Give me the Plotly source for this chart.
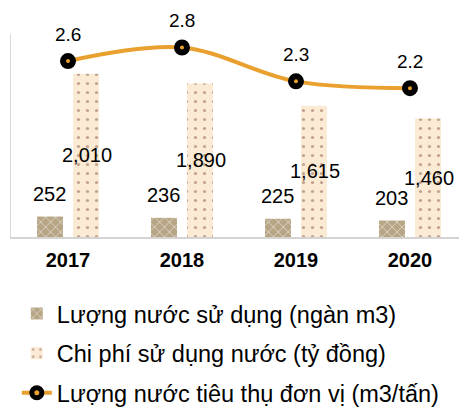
import plotly.graph_objects as go

# Water usage data by year
years = ["2017", "2018", "2019", "2020"]
water_volume = [252, 236, 225, 203]          # ngàn m3
water_cost = [2010, 1890, 1615, 1460]        # tỷ đồng
unit_consumption = [2.6, 2.8, 2.3, 2.2]      # m3/tấn

volume_labels = ["252", "236", "225", "203"]
cost_labels = ["2,010", "1,890", "1,615", "1,460"]
unit_labels = ["2.6", "2.8", "2.3", "2.2"]

FONT = "Arial, Liberation Sans, sans-serif"
TAN = "#B7A586"
BEIGE = "#FBEAD4"
ORANGE = "#E9A02E"

BAR_W = 0.228
fig = go.Figure()

fig.add_trace(go.Bar(
    x=years, y=water_volume, name="Lượng nước sử dụng (ngàn m3)",
    width=BAR_W, offset=-0.272,
    marker=dict(color=TAN, line=dict(width=0),
                pattern=dict(shape="x", fgcolor="white", bgcolor=TAN,
                             size=7, solidity=0.25)),
    legendgroup="a",
))
fig.add_trace(go.Bar(
    x=years, y=water_cost, name="Chi phí sử dụng nước (tỷ đồng)",
    width=BAR_W, offset=0.044,
    marker=dict(color=BEIGE, line=dict(width=0),
                pattern=dict(shape=".", fgcolor="#8A5A4A", bgcolor=BEIGE,
                             size=9, solidity=0.1)),
    legendgroup="b",
))
fig.add_trace(go.Scatter(
    x=years, y=unit_consumption, name="Lượng nước tiêu thụ đơn vị (m3/tấn)",
    yaxis="y2", mode="lines+markers",
    line=dict(color=ORANGE, width=4, shape="spline", smoothing=1),
    marker=dict(size=10, color=ORANGE, line=dict(color="black", width=6)),
    legendgroup="c",
))

annotations = []
for i, (v, t) in enumerate(zip(water_volume, volume_labels)):
    annotations.append(dict(x=i - 0.158, y=v, xref="x", yref="y", text=t,
                            showarrow=False, yshift=23,
                            font=dict(family=FONT, size=20, color="black")))
for i, (v, t) in enumerate(zip(water_cost, cost_labels)):
    annotations.append(dict(x=i + 0.17, y=v / 2, xref="x", yref="y", text=t,
                            showarrow=False,
                            font=dict(family=FONT, size=20, color="black")))
for i, (v, t) in enumerate(zip(unit_consumption, unit_labels)):
    annotations.append(dict(x=i, y=v, xref="x", yref="y2", text=t,
                            showarrow=False, yshift=27,
                            font=dict(family=FONT, size=19, color="black")))

fig.update_layout(
    width=459, height=412,
    margin=dict(l=11, r=0, t=34, b=175, autoexpand=False),
    paper_bgcolor="white", plot_bgcolor="white",
    barmode="overlay",
    showlegend=True,
    font=dict(family=FONT, color="black"),
    xaxis=dict(type="category", range=[-0.5, 3.43],
               showline=True, linecolor="#D4D4D4", linewidth=2,
               showgrid=False, zeroline=False, ticks="",
               ticklabelstandoff=4,
               tickfont=dict(family=FONT, size=20, color="black", weight="bold")),
    yaxis=dict(range=[0, 2500], showline=True, linecolor="#D9D9D9", linewidth=1,
               showgrid=False, zeroline=False, showticklabels=False, ticks=""),
    yaxis2=dict(range=[0, 3], overlaying="y", side="right", visible=False,
                showgrid=False, zeroline=False),
    legend=dict(orientation="v", x=0.013, xanchor="left", y=-0.27, yanchor="top",
                traceorder="grouped", tracegroupgap=6,
                font=dict(family=FONT, size=23.5, color="black"),
                bgcolor="rgba(0,0,0,0)"),
    annotations=annotations,
)

fig.write_html("out.html")
